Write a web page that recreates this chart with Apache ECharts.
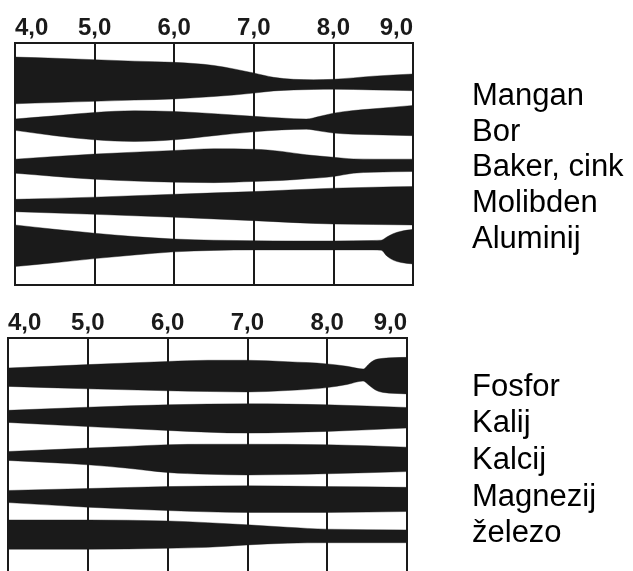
<!DOCTYPE html>
<html>
<head>
<meta charset="utf-8">
<script src="https://cdn.jsdelivr.net/npm/echarts@6/dist/echarts.min.js"></script>
<style>
html,body{margin:0;padding:0;background:#fff;}
#c{width:633px;height:571px;}
</style>
</head>
<body>
<div id="c"></div>
<script>
// pH tick labels
const tickLabels = ['4,0', '5,0', '6,0', '7,0', '8,0', '9,0'];

// Nutrient names, upper and lower panel
const upperNames = ['Mangan', 'Bor', 'Baker, cink', 'Molibden', 'Aluminij'];
const lowerNames = ['Fosfor', 'Kalij', 'Kalcij', 'Magnezij', 'železo'];

// Band top / bottom edges, in row units 0..10 measured down from the frame top
const manganPh     = [4.0, 4.5, 5.0, 5.5, 6.0, 6.5, 6.75, 7.0, 7.25, 7.5, 7.75, 8.0, 8.5, 9.0];
const manganTop    = [0.58, 0.63, 0.69, 0.75, 0.80, 0.93, 1.07, 1.24, 1.42, 1.50, 1.52, 1.50, 1.37, 1.28];
const manganBottom = [2.51, 2.46, 2.41, 2.36, 2.31, 2.21, 2.15, 2.07, 1.98, 1.94, 1.92, 1.91, 1.94, 1.97];

const borPh     = [4.0, 4.5, 5.0, 5.5, 6.0, 6.5, 7.0, 7.35, 7.66, 7.83, 8.0, 8.25, 8.5, 9.0];
const borTop    = [3.14, 3.01, 2.87, 2.80, 2.83, 2.92, 3.03, 3.10, 3.14, 3.03, 2.90, 2.79, 2.72, 2.58];
const borBottom = [3.61, 3.83, 4.00, 4.07, 4.00, 3.83, 3.67, 3.59, 3.56, 3.64, 3.72, 3.77, 3.79, 3.83];

const bakerPh     = [4.0, 5.0, 6.0, 6.5, 7.0, 7.35, 7.66, 8.0, 8.25, 8.5, 9.0];
const bakerTop    = [4.80, 4.59, 4.44, 4.37, 4.39, 4.48, 4.62, 4.72, 4.79, 4.80, 4.80];
const bakerBottom = [5.38, 5.63, 5.75, 5.77, 5.72, 5.68, 5.61, 5.52, 5.38, 5.34, 5.31];

const molibdenPh     = [4.0, 5.0, 6.0, 7.0, 8.0, 8.5, 9.0];
const molibdenTop    = [6.46, 6.37, 6.25, 6.14, 6.00, 5.96, 5.93];
const molibdenBottom = [6.97, 7.08, 7.20, 7.34, 7.48, 7.50, 7.52];

const aluminijPh     = [4.0, 4.5, 5.0, 5.5, 6.0, 6.5, 7.0, 7.5, 8.0, 8.5, 8.6, 8.67, 8.75, 8.85, 9.0];
const aluminijTop    = [7.52, 7.70, 7.86, 8.00, 8.10, 8.15, 8.17, 8.18, 8.18, 8.16, 8.15, 8.02, 7.88, 7.78, 7.70];
const aluminijBottom = [9.24, 9.08, 8.91, 8.76, 8.63, 8.57, 8.55, 8.55, 8.55, 8.55, 8.56, 8.80, 8.97, 9.07, 9.13];

const fosforPh     = [4.0, 5.0, 6.0, 6.5, 7.0, 7.5, 8.0, 8.25, 8.45, 8.52, 8.6, 8.7, 8.85, 9.0];
const fosforTop    = [1.24, 1.10, 0.97, 0.92, 0.92, 0.98, 1.07, 1.17, 1.28, 1.08, 0.90, 0.84, 0.81, 0.80];
const fosforBottom = [2.00, 2.10, 2.18, 2.21, 2.23, 2.17, 2.05, 1.92, 1.78, 1.94, 2.14, 2.25, 2.29, 2.31];

const kalijPh     = [4.0, 5.0, 6.0, 7.0, 7.5, 8.0, 9.0];
const kalijTop    = [2.99, 2.86, 2.76, 2.72, 2.73, 2.76, 2.87];
const kalijBottom = [3.49, 3.66, 3.82, 3.93, 3.90, 3.86, 3.72];

const kalcijPh     = [4.0, 5.0, 5.5, 6.0, 6.5, 7.0, 8.0, 9.0];
const kalcijTop    = [4.69, 4.55, 4.48, 4.41, 4.39, 4.39, 4.41, 4.51];
const kalcijBottom = [5.06, 5.24, 5.38, 5.56, 5.63, 5.66, 5.61, 5.52];

const magnezijPh     = [4.0, 5.0, 6.0, 7.0, 8.0, 9.0];
const magnezijTop    = [6.30, 6.22, 6.14, 6.11, 6.14, 6.17];
const magnezijBottom = [6.80, 6.99, 7.13, 7.21, 7.21, 7.17];

const zelezoPh     = [4.0, 5.0, 6.0, 6.5, 7.0, 7.5, 8.0, 9.0];
const zelezoTop    = [7.52, 7.52, 7.56, 7.63, 7.72, 7.82, 7.90, 7.93];
const zelezoBottom = [8.73, 8.73, 8.69, 8.65, 8.55, 8.48, 8.46, 8.46];

const INK = '#1a1a1a';

// monotone cubic tangents for points sorted by x
function tangents(p) {
  const n = p.length, d = [], m = [];
  for (let i = 0; i < n - 1; i++) d.push((p[i + 1][1] - p[i][1]) / (p[i + 1][0] - p[i][0]));
  m[0] = d[0]; m[n - 1] = d[n - 2];
  for (let i = 1; i < n - 1; i++) {
    const h0 = p[i][0] - p[i - 1][0], h1 = p[i + 1][0] - p[i][0];
    const d0 = d[i - 1], d1 = d[i];
    if (d0 * d1 <= 0) { m[i] = 0; continue; }
    const q = (d0 * h1 + d1 * h0) / (h0 + h1);
    m[i] = Math.sign(d0) * Math.min(Math.abs(q), 2 * Math.min(Math.abs(d0), Math.abs(d1)));
  }
  return m;
}
function edgePath(p, reverse) {
  const m = tangents(p);
  let s = '';
  if (!reverse) {
    for (let i = 0; i < p.length - 1; i++) {
      const h = (p[i + 1][0] - p[i][0]) / 3;
      s += ' C' + (p[i][0] + h) + ' ' + (p[i][1] + m[i] * h) + ' ' +
        (p[i + 1][0] - h) + ' ' + (p[i + 1][1] - m[i + 1] * h) + ' ' + p[i + 1][0] + ' ' + p[i + 1][1];
    }
  } else {
    for (let i = p.length - 1; i > 0; i--) {
      const h = (p[i][0] - p[i - 1][0]) / 3;
      s += ' C' + (p[i][0] - h) + ' ' + (p[i][1] - m[i] * h) + ' ' +
        (p[i - 1][0] + h) + ' ' + (p[i - 1][1] + m[i - 1] * h) + ' ' + p[i - 1][0] + ' ' + p[i - 1][1];
    }
  }
  return s;
}

function band(name, ph, top, bottom, gi) {
  return {
    type: 'custom', name: name, coordinateSystem: 'cartesian2d',
    xAxisIndex: gi, yAxisIndex: gi, silent: true, clip: true,
    data: ph.map((x, i) => [x, top[i], bottom[i]]),
    encode: { x: 0, y: [1, 2] },
    renderItem: function (params, api) {
      if (params.dataIndex !== 0) return null;
      const tp = ph.map((x, i) => api.coord([x, top[i]]));
      const bp = ph.map((x, i) => api.coord([x, bottom[i]]));
      let d = 'M' + tp[0][0] + ' ' + tp[0][1] + edgePath(tp, false);
      const last = bp[bp.length - 1];
      d += ' L' + last[0] + ' ' + last[1] + edgePath(bp, true) + ' Z';
      return { type: 'path', shape: { pathData: d }, style: { fill: INK, stroke: INK, lineWidth: 0.4 } };
    }
  };
}

const series = [
  band('Mangan', manganPh, manganTop, manganBottom, 0),
  band('Bor', borPh, borTop, borBottom, 0),
  band('Baker, cink', bakerPh, bakerTop, bakerBottom, 0),
  band('Molibden', molibdenPh, molibdenTop, molibdenBottom, 0),
  band('Aluminij', aluminijPh, aluminijTop, aluminijBottom, 0),
  band('Fosfor', fosforPh, fosforTop, fosforBottom, 1),
  band('Kalij', kalijPh, kalijTop, kalijBottom, 1),
  band('Kalcij', kalcijPh, kalcijTop, kalcijBottom, 1),
  band('Magnezij', magnezijPh, magnezijTop, magnezijBottom, 1),
  band('železo', zelezoPh, zelezoTop, zelezoBottom, 1)
];

function xAxis(gi, margin) {
  return {
    type: 'value', gridIndex: gi, position: 'top', min: 4, max: 9, interval: 1,
    axisLine: { show: false }, axisTick: { show: false },
    splitLine: { show: true, lineStyle: { color: INK, width: 2 } },
    axisLabel: {
      show: true, margin: margin, verticalAlign: 'middle',
      alignMinLabel: 'left', alignMaxLabel: 'right',
      color: INK, fontWeight: 'bold', fontSize: 24,
      fontFamily: "'Liberation Sans', Arial, sans-serif",
      formatter: v => tickLabels[Math.round(v - 4)]
    }
  };
}
function yAxis(gi) {
  return {
    type: 'value', gridIndex: gi, min: 0, max: 10, inverse: true,
    axisLine: { show: false }, axisTick: { show: false }, axisLabel: { show: false },
    splitLine: { show: false }
  };
}

const labelFont = "31px 'Liberation Sans', Arial, sans-serif";
const upperBase = [106, 142, 177, 213, 249];
const lowerBase = [397, 433, 470, 507, 543];
const graphics = [];
upperNames.forEach((t, i) => graphics.push({
  type: 'text', left: 472, top: upperBase[i] - 25, silent: true,
  style: { text: t, font: labelFont, fill: '#000' }
}));
lowerNames.forEach((t, i) => graphics.push({
  type: 'text', left: 472, top: lowerBase[i] - 25, silent: true,
  style: { text: t, font: labelFont, fill: '#000' }
}));

const chart = echarts.init(document.getElementById('c'), null, { renderer: 'canvas' });
chart.setOption({
  animation: false,
  backgroundColor: '#fff',
  grid: [
    { left: 15, top: 43, width: 398, height: 242, show: true, borderColor: INK, borderWidth: 2,
      backgroundColor: 'transparent', outerBoundsMode: 'none', containLabel: false },
    { left: 8, top: 338, width: 399, height: 242, show: true, borderColor: INK, borderWidth: 2,
      backgroundColor: 'transparent', outerBoundsMode: 'none', containLabel: false }
  ],
  xAxis: [xAxis(0, 15), xAxis(1, 15)],
  yAxis: [yAxis(0), yAxis(1)],
  graphic: graphics,
  series: series
});
</script>
</body>
</html>
